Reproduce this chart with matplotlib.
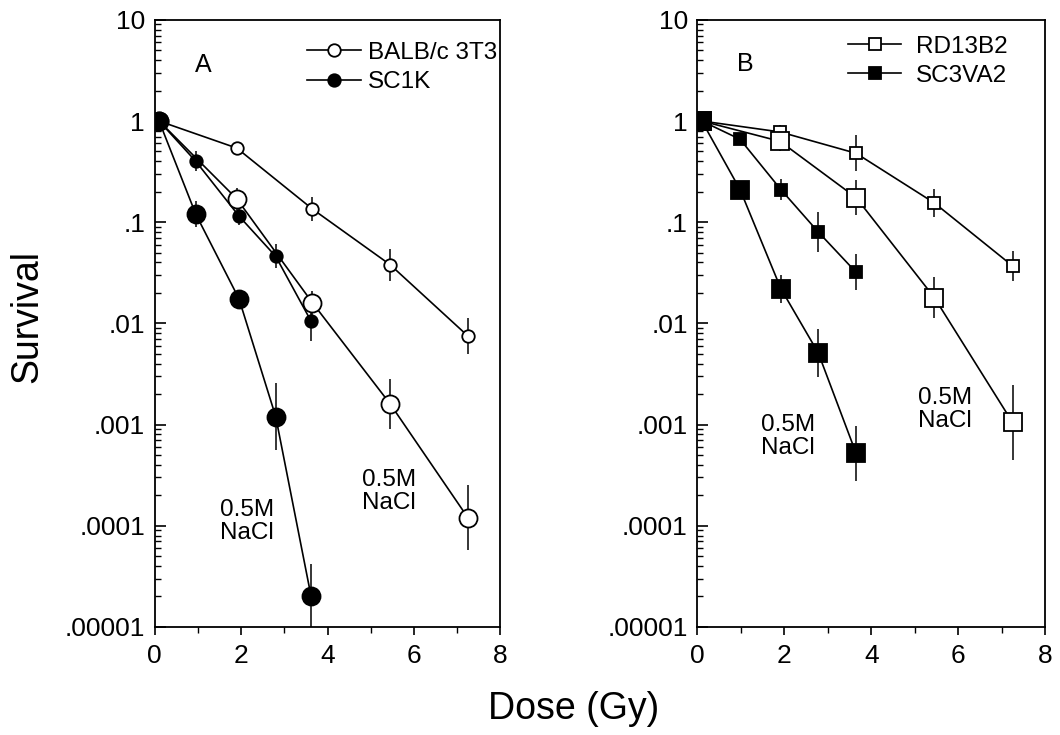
import matplotlib
matplotlib.use('Agg')
import matplotlib.pyplot as plt
from matplotlib.ticker import FixedLocator, LogLocator, NullFormatter, MultipleLocator
import numpy as np

plt.rcParams['font.family'] = ['Liberation Sans', 'DejaVu Sans']

# panel A
dose_a = [0.1, 1.9, 3.65, 5.45, 7.25]
balb = [1, 0.54, 0.135, 0.038, 0.0075]
balb_err = [0, 0.06, 0.12, 0.16, 0.18]          # half-width, decades
balb_nacl = [1, 0.17, 0.016, 0.0016, 0.00012]
balb_nacl_err = [0, 0.11, 0.12, 0.25, 0.32]
dose_sc1k = [0.1, 0.95, 1.95, 2.8, 3.62]
sc1k = [1, 0.40, 0.115, 0.046, 0.0105]
sc1k_err = [0, 0.1, 0.09, 0.12, 0.2]
sc1k_nacl = [1, 0.12, 0.0175, 0.0012, 0.00002]
sc1k_nacl_err = [0, 0.13, 0.05, 0.33, 0.32]

# panel B
dose_b = [0.1, 1.9, 3.65, 5.45, 7.25]
rd = [1, 0.78, 0.48, 0.155, 0.037]
rd_err = [0, 0.07, 0.18, 0.14, 0.15]
rd_nacl = [1, 0.63, 0.175, 0.018, 0.00105]
rd_nacl_err = [0, 0.1, 0.17, 0.2, 0.37]
dose_sc3 = [0.1, 0.98, 1.92, 2.78, 3.65]
sc3 = [1, 0.66, 0.21, 0.08, 0.032]
sc3_err = [0, 0.05, 0.1, 0.2, 0.18]
sc3_nacl = [1, 0.21, 0.022, 0.0051, 0.00052]
sc3_nacl_err = [0, 0.08, 0.14, 0.24, 0.27]

ytick_vals = [1e-5, 1e-4, 1e-3, 1e-2, 1e-1, 1, 10]
ytick_labels = ['.00001', '.0001', '.001', '.01', '.1', '1', '10']
xtick_vals = [0, 2, 4, 6, 8]


def curve(ax, x, y, e, marker, ms, filled, label=None):
    y = np.array(y)
    e = np.array(e)
    lo = y - y / 10 ** e
    hi = y * 10 ** e - y
    ax.errorbar(x, y, yerr=[lo, hi], fmt='none', ecolor='black', elinewidth=1.1, zorder=2)
    ax.plot(x, y, '-', color='black', lw=1.2, marker=marker, ms=ms,
            mfc='black' if filled else 'white', mec='black', mew=1.3,
            zorder=3, label=label)


def style(ax):
    ax.set_yscale('log')
    ax.set_ylim(1e-5, 10)
    ax.set_xlim(0, 8)
    ax.yaxis.set_major_locator(FixedLocator(ytick_vals))
    ax.set_yticklabels(ytick_labels)
    ax.yaxis.set_minor_locator(LogLocator(base=10, subs=np.arange(2, 10), numticks=20))
    ax.yaxis.set_minor_formatter(NullFormatter())
    ax.set_xticks(xtick_vals)
    ax.xaxis.set_minor_locator(MultipleLocator(1))
    ax.tick_params(axis='y', which='major', direction='in', length=8, width=1.2,
                   labelsize=19, pad=7)
    ax.tick_params(axis='y', which='minor', direction='in', length=4, width=1)
    ax.tick_params(axis='x', which='major', direction='out', length=6, width=1.2,
                   labelsize=19, pad=6)
    ax.tick_params(axis='x', which='minor', direction='out', length=4, width=1)
    for s in ax.spines.values():
        s.set_linewidth(1.3)


fig = plt.figure(figsize=(10.6, 7.35), dpi=100)
ax1 = fig.add_axes([0.146, 0.147, 0.326, 0.826])
ax2 = fig.add_axes([0.658, 0.147, 0.328, 0.826])

curve(ax1, dose_a, balb, balb_err, 'o', 9, False, 'BALB/c 3T3')
curve(ax1, dose_sc1k, sc1k, sc1k_err, 'o', 9, True, 'SC1K')
curve(ax1, dose_a, balb_nacl, balb_nacl_err, 'o', 13, False)
curve(ax1, dose_sc1k, sc1k_nacl, sc1k_nacl_err, 'o', 13, True)
style(ax1)
ax1.text(0.92, 3.6, 'A', fontsize=18, va='center')
ax1.text(1.5, 1.1e-4, '0.5M\nNaCl', fontsize=17.5, va='center', linespacing=1.05)
ax1.text(4.8, 2.2e-4, '0.5M\nNaCl', fontsize=17.5, va='center', linespacing=1.05)
ax1.legend(loc='upper right', bbox_to_anchor=(1.02, 0.98), frameon=False,
           fontsize=17.5, handlelength=2.2, handletextpad=0.3, labelspacing=0.3,
           borderaxespad=0)

curve(ax2, dose_b, rd, rd_err, 's', 8.5, False, 'RD13B2')
curve(ax2, dose_sc3, sc3, sc3_err, 's', 8.5, True, 'SC3VA2')
curve(ax2, dose_b, rd_nacl, rd_nacl_err, 's', 13, False)
curve(ax2, dose_sc3, sc3_nacl, sc3_nacl_err, 's', 13, True)
style(ax2)
ax2.text(0.9, 3.7, 'B', fontsize=18, va='center')
ax2.text(1.47, 7.6e-4, '0.5M\nNaCl', fontsize=17.5, va='center', linespacing=1.05)
ax2.text(5.08, 1.4e-3, '0.5M\nNaCl', fontsize=17.5, va='center', linespacing=1.05)
ax2.legend(loc='upper right', bbox_to_anchor=(0.92, 0.99), frameon=False,
           fontsize=17.5, handlelength=2.2, handletextpad=0.6, labelspacing=0.3,
           borderaxespad=0)

fig.text(0.026, 0.569, 'Survival', rotation=90, fontsize=27, va='center', ha='center')
fig.text(0.541, 0.035, 'Dose (Gy)', fontsize=27, va='center', ha='center')

fig.savefig('out.png', dpi=100)
